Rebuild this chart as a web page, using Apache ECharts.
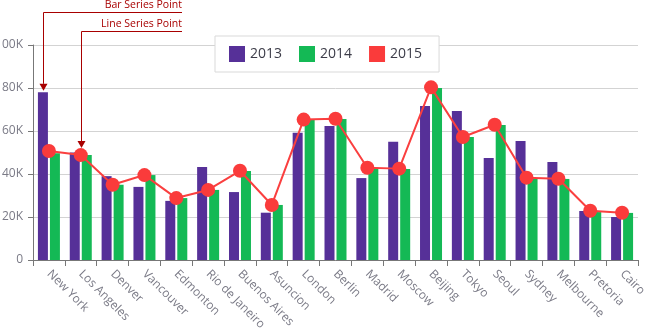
<!DOCTYPE html>
<html>
<head>
<meta charset="utf-8">
<title>City sales 2013-2015</title>
<script src="https://cdn.jsdelivr.net/npm/echarts@6/dist/echarts.min.js"></script>
<style>
  html, body { margin: 0; padding: 0; background: #fff; }
  #chart { width: 652px; height: 336px; }
</style>
</head>
<body>
<div id="chart"></div>
<script>
// Categories and yearly values
const cities = ['New York', 'Los Angeles', 'Denver', 'Vancouver', 'Edmonton', 'Rio de Janeiro',
  'Buenos Aires', 'Asuncion', 'London', 'Berlin', 'Madrid', 'Moscow', 'Beijing', 'Tokyo',
  'Seoul', 'Sydney', 'Melbourne', 'Pretoria', 'Cairo'];
const sales2013 = [78000, 50000, 39000, 34000, 27500, 43200, 31600, 22000, 59200, 62300,
  38100, 55000, 71600, 69300, 47400, 55300, 45600, 22800, 20000];
const sales2014 = [49600, 48800, 35000, 39500, 28800, 32600, 41400, 25600, 65100, 65600,
  42900, 42300, 80000, 57200, 62800, 38100, 37700, 22300, 21900];
const sales2015 = [50700, 48800, 35000, 39500, 28800, 32600, 41500, 25600, 65300, 65700,
  42900, 42500, 80300, 57200, 62900, 38300, 37800, 22900, 22000];
const yearNames = ['2013', '2014', '2015'];

const FONT = '"Open Sans", "Noto Sans", sans-serif';
const ANNOT = '#a80000';

const chart = echarts.init(document.getElementById('chart'), null, { renderer: 'canvas' });

chart.setOption({
  animation: false,
  textStyle: { fontFamily: FONT },
  grid: { left: 33, right: 14, top: 45, bottom: 76, containLabel: false, outerBoundsMode: 'none' },
  legend: {
    left: 215, top: 36,
    padding: [10, 17, 10, 14],
    itemWidth: 16, itemHeight: 16, itemGap: 17,
    icon: 'rect',
    backgroundColor: '#fff',
    borderColor: '#d9d9d9', borderWidth: 1,
    textStyle: { fontSize: 14, color: '#3c3c48', fontFamily: FONT },
    data: yearNames
  },
  xAxis: {
    type: 'category',
    data: cities,
    axisLine: { lineStyle: { color: '#777', width: 1 } },
    axisTick: { show: true, length: 6, lineStyle: { color: '#777' } },
    axisLabel: { rotate: -45, margin: 12, fontSize: 12, color: '#7a7a86', interval: 0 }
  },
  yAxis: {
    type: 'value',
    min: 0, max: 100000, interval: 20000,
    axisLine: { show: true, lineStyle: { color: '#777' } },
    axisTick: { show: true, length: 5, lineStyle: { color: '#777' } },
    splitLine: { lineStyle: { color: '#d3d3d3' } },
    axisLabel: {
      margin: 10, fontSize: 12, color: '#7a7a86',
      formatter: v => v === 0 ? '0' : (v / 1000) + 'K'
    }
  },
  series: [
    { name: yearNames[0], type: 'bar', data: sales2013, barWidth: 10, barGap: '20%',
      itemStyle: { color: '#563098' } },
    { name: yearNames[1], type: 'bar', data: sales2014, barWidth: 10, barGap: '20%',
      itemStyle: { color: '#14b955' } },
    { name: yearNames[2], type: 'line', data: sales2015, z: 5,
      symbol: 'circle', symbolSize: 14, showSymbol: true,
      itemStyle: { color: '#fa3b3b' },
      lineStyle: { color: '#fa3f3f', width: 2 } }
  ]
});

// Callout annotations anchored to computed pixel positions of the target marks
function callout(text, textRight, lineY, px, tipY) {
  const headH = 7, headW = 4;
  return [
    { type: 'text', z: 100, style: { text: text, x: textRight, y: lineY - 2,
        align: 'right', verticalAlign: 'bottom', fill: ANNOT, fontSize: 10.5, fontFamily: FONT } },
    { type: 'polyline', z: 100, shape: { points: [[textRight, lineY], [px, lineY], [px, tipY - headH]] },
      style: { stroke: ANNOT, lineWidth: 1, fill: null } },
    { type: 'polygon', z: 100, shape: { points: [[px - headW, tipY - headH], [px + headW, tipY - headH], [px, tipY]] },
      style: { fill: ANNOT } }
  ];
}

const barLayout = chart.getModel().getSeriesByIndex(0).getData().getItemLayout(0);
const barCx = Math.round(barLayout.x + barLayout.width / 2) + 0.5;
const barTop = Math.min(barLayout.y, barLayout.y + barLayout.height);

const linePt = chart.convertToPixel({ seriesIndex: 2 }, [1, sales2015[1]]);
const lineCx = Math.round(linePt[0]) + 0.5;
const lineTop = linePt[1] - 7;

chart.setOption({
  graphic: [].concat(
    callout('Bar Series Point', 182, 12.5, barCx, barTop - 1.5),
    callout('Line Series Point', 182, 31.5, lineCx, lineTop)
  )
});
</script>
</body>
</html>
